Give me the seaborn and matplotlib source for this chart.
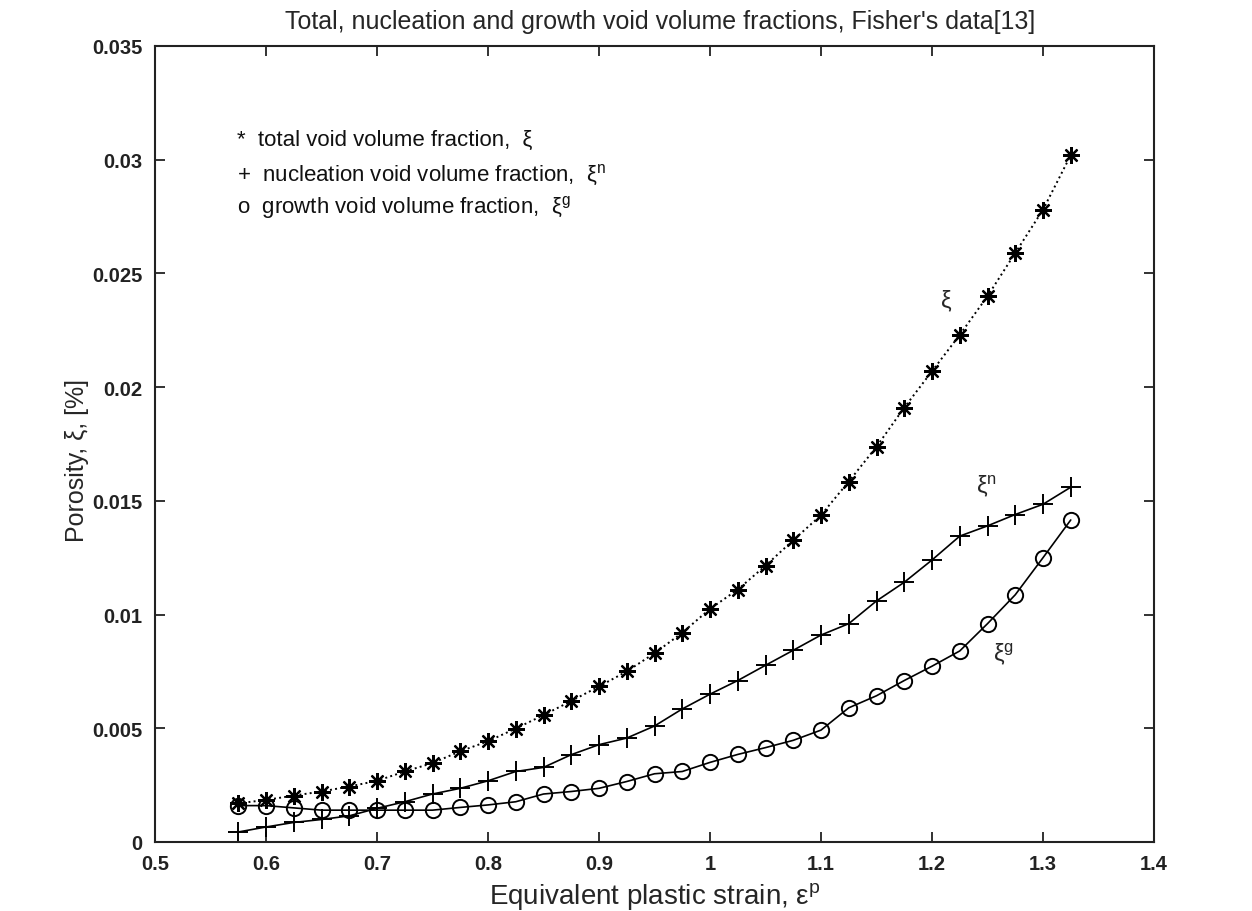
import matplotlib
matplotlib.use("Agg")
import matplotlib.pyplot as plt
import seaborn as sns
import pandas as pd

# ---- data ----
strain = [0.575, 0.6, 0.625, 0.65, 0.675, 0.7, 0.725, 0.75, 0.775, 0.8,
          0.825, 0.85, 0.875, 0.9, 0.925, 0.95, 0.975, 1.0, 1.025, 1.05,
          1.075, 1.1, 1.125, 1.15, 1.175, 1.2, 1.225, 1.25, 1.275, 1.3, 1.325]

total = [0.0017, 0.00185, 0.00204, 0.00222, 0.00244, 0.00269, 0.0031, 0.00347,
         0.00399, 0.00443, 0.00499, 0.00558, 0.0062, 0.00684, 0.0075, 0.0083,
         0.0092, 0.01025, 0.0111, 0.01215, 0.01327, 0.01437, 0.01585, 0.01738,
         0.0191, 0.0207, 0.0223, 0.0240, 0.0259, 0.0278, 0.0302]

nucleation = [0.00044, 0.00066, 0.00086, 0.00099, 0.00115, 0.00148, 0.00177,
              0.00211, 0.00236, 0.00269, 0.0031, 0.00328, 0.00384, 0.00428,
              0.00457, 0.0051, 0.00585, 0.0065, 0.0071, 0.00777, 0.00843,
              0.0091, 0.0096, 0.0106, 0.01142, 0.0124, 0.01345, 0.0139,
              0.0144, 0.01485, 0.0156]

growth = [0.0016, 0.0016, 0.0015, 0.0014, 0.0014, 0.0014, 0.0014, 0.0014,
          0.00152, 0.00163, 0.00177, 0.00211, 0.00222, 0.00236, 0.00266,
          0.003, 0.0031, 0.0035, 0.00385, 0.00415, 0.00447, 0.00492, 0.0059,
          0.00643, 0.0071, 0.00773, 0.0084, 0.0096, 0.01087, 0.0125, 0.01416]

xticks = [0.5, 0.6, 0.7, 0.8, 0.9, 1.0, 1.1, 1.2, 1.3, 1.4]
xtick_labels = ["0.5", "0.6", "0.7", "0.8", "0.9", "1", "1.1", "1.2", "1.3", "1.4"]
yticks = [0, 0.005, 0.01, 0.015, 0.02, 0.025, 0.03, 0.035]
ytick_labels = ["0", "0.005", "0.01", "0.015", "0.02", "0.025", "0.03", "0.035"]

title = "Total, nucleation and growth void volume fractions, Fisher's data[13]"
legend_lines = [
    "*  total void volume fraction,  ξ",
    "+  nucleation void volume fraction,  ξ$^{\\mathrm{n}}$",
    "o  growth void volume fraction,  ξ$^{\\mathrm{g}}$",
]

# ---- style ----
sns.set_style("ticks")
plt.rcParams["font.family"] = ["Liberation Sans", "DejaVu Sans"]
plt.rcParams["mathtext.fontset"] = "custom"
plt.rcParams["mathtext.rm"] = "Liberation Sans"
plt.rcParams["mathtext.it"] = "Liberation Sans:italic"

df = pd.DataFrame({"strain": strain, "total": total,
                   "nucleation": nucleation, "growth": growth})

fig = plt.figure(figsize=(12.52, 9.12), dpi=100)
ax = fig.add_axes([155 / 1252, 1 - 843 / 912, 999 / 1252, 796 / 912])

sns.lineplot(data=df, x="strain", y="total", ax=ax, color="black",
             linestyle=":", linewidth=1.4, marker=(8, 2, 0), markersize=12,
             markeredgewidth=1.6, markeredgecolor="black")
sns.lineplot(data=df, x="strain", y="nucleation", ax=ax, color="black",
             linestyle="-", linewidth=1.2, marker="+", markersize=14,
             markeredgewidth=1.4, markeredgecolor="black")
sns.lineplot(data=df, x="strain", y="growth", ax=ax, color="black",
             linestyle="-", linewidth=1.2, marker="o", markersize=11,
             markeredgewidth=1.4, markerfacecolor="none",
             markeredgecolor="black")

ax.set_xlim(0.5, 1.4)
ax.set_ylim(0, 0.035)
ax.set_xticks(xticks)
ax.set_xticklabels(xtick_labels, fontsize=14.5, fontweight="bold")
ax.set_yticks(yticks)
ax.set_yticklabels(ytick_labels, fontsize=14.5, fontweight="bold")
ax.tick_params(direction="in", top=True, right=True, length=7, width=1.3,
               colors="#222222", pad=9)
for s in ax.spines.values():
    s.set_linewidth(1.5)
    s.set_color("#222222")

ax.set_xlabel("Equivalent plastic strain, ε$^{\\mathrm{p}}$", fontsize=20)
ax.xaxis.set_label_coords(0.5, -0.048)
ax.set_ylabel("Porosity, ξ, [%]", fontsize=18)
ax.yaxis.set_label_coords(-0.066, 0.48)
ax.set_title(title, fontsize=18, pad=13, x=0.506)

legend_y = [0.876, 0.831, 0.791]
for txt, yy in zip(legend_lines, legend_y):
    ax.text(0.082, yy, txt, transform=ax.transAxes, fontsize=16,
            ha="left", va="baseline", color="#111111")

ax.text(1.2126, 0.0238, "ξ", fontsize=17, ha="center", va="center")
ax.text(1.2495, 0.0157, "ξ$^{\\mathrm{n}}$", fontsize=17, ha="center", va="center")
ax.text(1.264, 0.0083, "ξ$^{\\mathrm{g}}$", fontsize=17, ha="center", va="center")

fig.savefig("out.png", dpi=100, facecolor="white")
